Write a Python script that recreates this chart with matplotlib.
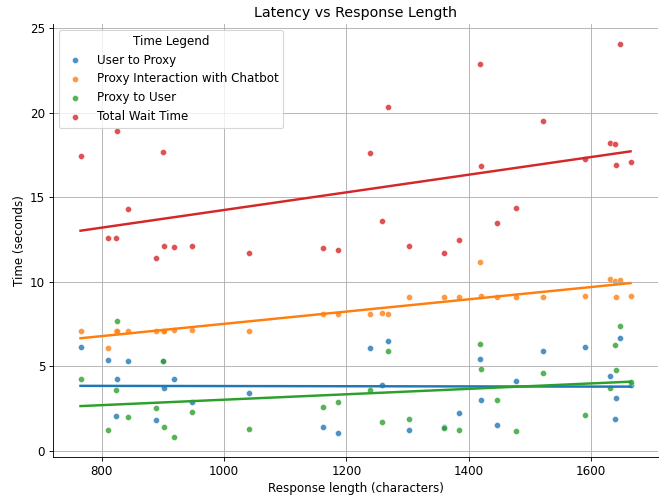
import numpy as np
import matplotlib
matplotlib.use('Agg')
import matplotlib.pyplot as plt
import seaborn as sns

plt.rcParams['font.size'] = 10.65
plt.rcParams['axes.titlesize'] = 12.8

# response length in characters, one entry per request
response_length = [765, 810, 823, 825, 843, 889, 900, 902, 918, 947,
                   1040, 1162, 1186, 1238, 1259, 1268, 1302, 1359, 1385, 1419,
                   1420, 1447, 1477, 1521, 1590, 1631, 1639, 1642, 1648, 1665]

user_to_proxy = [6.15, 5.37, 2.04, 4.25, 5.33, 1.83, 5.33, 3.71, 4.25, 2.87,
                 3.40, 1.42, 1.02, 6.07, 3.87, 6.49, 1.24, 1.38, 2.20, 5.44,
                 2.97, 1.51, 4.15, 5.91, 6.11, 4.40, 1.88, 3.13, 6.67, 3.90]

proxy_chatbot = [7.09, 6.09, 7.09, 7.09, 7.09, 7.09, 7.09, 7.09, 7.13, 7.12,
                 7.09, 8.10, 8.08, 8.10, 8.14, 8.08, 9.08, 9.08, 9.08, 11.16,
                 9.16, 9.10, 9.10, 9.08, 9.14, 10.18, 10.06, 9.08, 10.12, 9.14]

proxy_to_user = [4.26, 1.22, 3.56, 7.67, 1.99, 2.55, 5.33, 1.40, 0.79, 2.26,
                 1.28, 2.61, 2.89, 3.56, 1.71, 5.88, 1.87, 1.36, 1.22, 6.33,
                 4.82, 2.97, 1.18, 4.58, 2.10, 3.68, 6.27, 4.76, 7.37, 4.06]

total_wait = [17.41, 12.58, 12.60, 18.91, 14.27, 11.38, 17.69, 12.10, 12.05, 12.13,
              11.67, 12.01, 11.89, 17.63, 13.60, 20.32, 12.09, 11.71, 12.44, 22.84,
              16.82, 13.48, 14.33, 19.48, 17.26, 18.22, 18.16, 16.92, 24.07, 17.06]

series = [('User to Proxy', user_to_proxy),
          ('Proxy Interaction with Chatbot', proxy_chatbot),
          ('Proxy to User', proxy_to_user),
          ('Total Wait Time', total_wait)]

x = np.array(response_length)

fig = plt.figure(figsize=(8.375, 6.2125), dpi=80)
ax = plt.gca()
ax.grid(True)
for name, vals in series:
    sns.regplot(x=x, y=np.array(vals), ci=None, label=name, ax=ax,
                scatter_kws={'s': 30, 'alpha': 0.8, 'edgecolor': 'white', 'linewidths': 0.5},
                line_kws={'linewidth': 2.2})

ax.set_title('Latency vs Response Length')
ax.set_xlabel('Response length (characters)')
ax.set_ylabel('Time (seconds)')
ax.legend(title='Time Legend', loc='upper left')
ax.spines['top'].set_visible(False)
ax.spines['right'].set_visible(False)
fig.subplots_adjust(left=53/670, right=658/670, bottom=1-457/497, top=1-24/497)
plt.savefig('out.png', dpi=80)
